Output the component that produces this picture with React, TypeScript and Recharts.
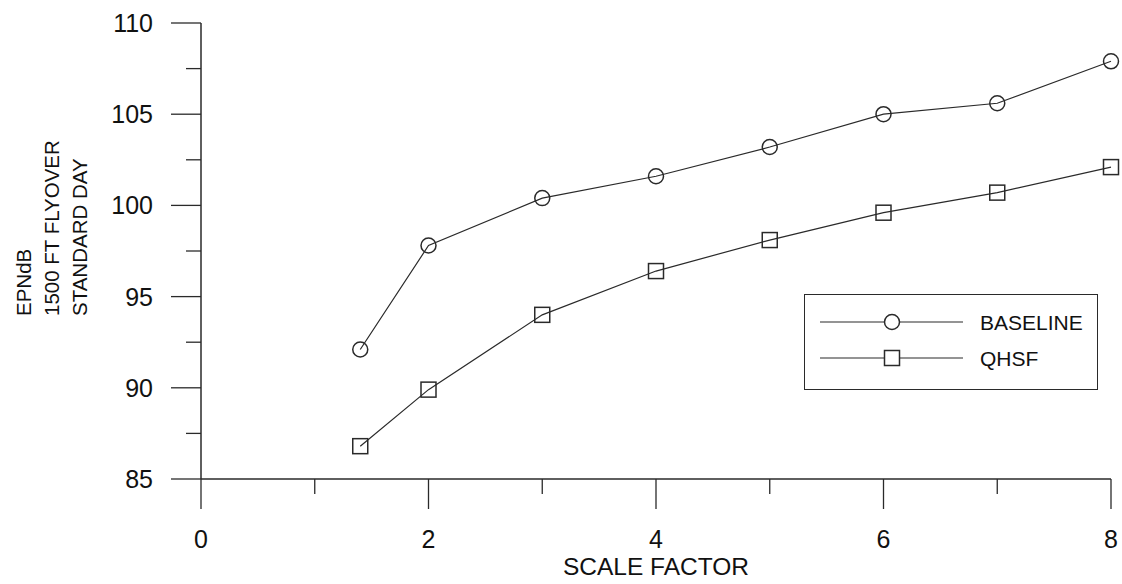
import { CartesianGrid, Legend, Line, LineChart, XAxis, YAxis } from "recharts";

const scaleFactors = [1.4, 2, 3, 4, 5, 6, 7, 8];
const baselineEpndb = [92.1, 97.8, 100.4, 101.6, 103.2, 105.0, 105.6, 107.9];
const qhsfEpndb = [86.8, 89.9, 94.0, 96.4, 98.1, 99.6, 100.7, 102.1];
const xTicks = [0, 1, 2, 3, 4, 5, 6, 7, 8];
const yTicks = [85, 87.5, 90, 92.5, 95, 97.5, 100, 102.5, 105, 107.5, 110];
const yTitleLines = ["EPNdB", "1500 FT FLYOVER", "STANDARD DAY"];

const data = scaleFactors.map((x, i) => ({
  x,
  baseline: baselineEpndb[i],
  qhsf: qhsfEpndb[i],
}));

const FONT = '"Liberation Sans", Arial, Helvetica, sans-serif';
const INK = "#2a2a2a";

const YTick = (props: any) => {
  const { x, y, payload } = props;
  const major = payload.value % 5 === 0;
  return (
    <g>
      <line x1={x} x2={x - (major ? 30 : 15)} y1={y} y2={y} stroke={INK} strokeWidth={1.3} />
      {major && (
        <text x={x - 48} y={y} dy="0.36em" textAnchor="end" fontSize={25} fontFamily={FONT} fill="#111">
          {payload.value}
        </text>
      )}
    </g>
  );
};

const XTick = (props: any) => {
  const { x, y, payload } = props;
  const major = payload.value % 2 === 0;
  return (
    <g>
      <line x1={x} x2={x} y1={y} y2={y + (major ? 30 : 15)} stroke={INK} strokeWidth={1.3} />
      {major && (
        <text x={x} y={y + 69} textAnchor="middle" fontSize={25} fontFamily={FONT} fill="#111">
          {payload.value}
        </text>
      )}
    </g>
  );
};

const CircleDot = (props: any) => {
  const { cx, cy, index } = props;
  return <circle key={`c${index}`} cx={cx} cy={cy} r={7.5} fill="none" stroke={INK} strokeWidth={1.5} />;
};

const SquareDot = (props: any) => {
  const { cx, cy, index } = props;
  return (
    <rect key={`s${index}`} x={cx - 7.5} y={cy - 7.5} width={15} height={15} fill="none" stroke={INK} strokeWidth={1.5} />
  );
};

const YTitle = (props: any) => {
  const { viewBox } = props;
  const bottom = viewBox.y + 293;
  return (
    <g>
      {yTitleLines.map((line, i) => (
        <text
          key={line}
          x={0}
          y={0}
          transform={`translate(${viewBox.x + 31 + i * 28}, ${bottom}) rotate(-90)`}
          textAnchor="start"
          fontSize={20.5}
          fontFamily={FONT}
          fill="#111"
        >
          {line}
        </text>
      ))}
    </g>
  );
};

const XTitle = (props: any) => {
  const { viewBox } = props;
  return (
    <text
      x={viewBox.x + viewBox.width / 2}
      y={viewBox.y + 96}
      textAnchor="middle"
      fontSize={24.5}
      fontFamily={FONT}
      fill="#111"
    >
      SCALE FACTOR
    </text>
  );
};

const legendItems = [
  { name: "BASELINE", marker: "circle" },
  { name: "QHSF", marker: "square" },
];

const LegendBox = () => (
  <div
    style={{
      width: 294,
      height: 96,
      border: `1.5px solid ${INK}`,
      boxSizing: "border-box",
      background: "#fff",
      position: "relative",
    }}
  >
    <svg width={294} height={96} style={{ position: "absolute", left: -1.5, top: -1.5 }}>
      {legendItems.map((item, i) => {
        const cy = 28 + i * 36;
        return (
          <g key={item.name}>
            <line x1={16} x2={159} y1={cy} y2={cy} stroke={INK} strokeWidth={1.2} />
            {item.marker === "circle" ? (
              <circle cx={88} cy={cy} r={7.5} fill="#fff" stroke={INK} strokeWidth={1.5} />
            ) : (
              <rect x={80.5} y={cy - 7.5} width={15} height={15} fill="#fff" stroke={INK} strokeWidth={1.5} />
            )}
            <text x={176} y={cy} dy="0.36em" fontSize={21} fontFamily={FONT} fill="#111">
              {item.name}
            </text>
          </g>
        );
      })}
    </svg>
  </div>
);

export default function App() {
  return (
    <div style={{ position: "absolute", left: 0, top: 0, background: "#fff" }}>
      <LineChart width={1122} height={584} data={data} margin={{ top: 23, right: 11, left: 0, bottom: 0 }}>
        <CartesianGrid stroke="none" />
        <XAxis
          dataKey="x"
          type="number"
          domain={[0, 8]}
          ticks={xTicks}
          interval={0}
          height={105}
          tickSize={0}
          tickMargin={0}
          tickLine={false}
          tick={<XTick />}
          axisLine={{ stroke: INK, strokeWidth: 1.5 }}
          label={{ content: <XTitle /> }}
        />
        <YAxis
          type="number"
          domain={[85, 110]}
          ticks={yTicks}
          interval={0}
          width={201}
          tickSize={0}
          tickMargin={0}
          tickLine={false}
          tick={<YTick />}
          axisLine={{ stroke: INK, strokeWidth: 1.5 }}
          label={{ content: <YTitle /> }}
        />
        <Legend
          layout="horizontal"
          verticalAlign="middle"
          align="center"
          content={<LegendBox />}
          wrapperStyle={{ left: 804, top: 294, width: 294, height: 96 }}
        />
        <Line
          type="linear"
          dataKey="baseline"
          name="BASELINE"
          stroke={INK}
          strokeWidth={1.2}
          dot={<CircleDot />}
          activeDot={false}
          isAnimationActive={false}
        />
        <Line
          type="linear"
          dataKey="qhsf"
          name="QHSF"
          stroke={INK}
          strokeWidth={1.2}
          dot={<SquareDot />}
          activeDot={false}
          isAnimationActive={false}
        />
      </LineChart>
    </div>
  );
}
